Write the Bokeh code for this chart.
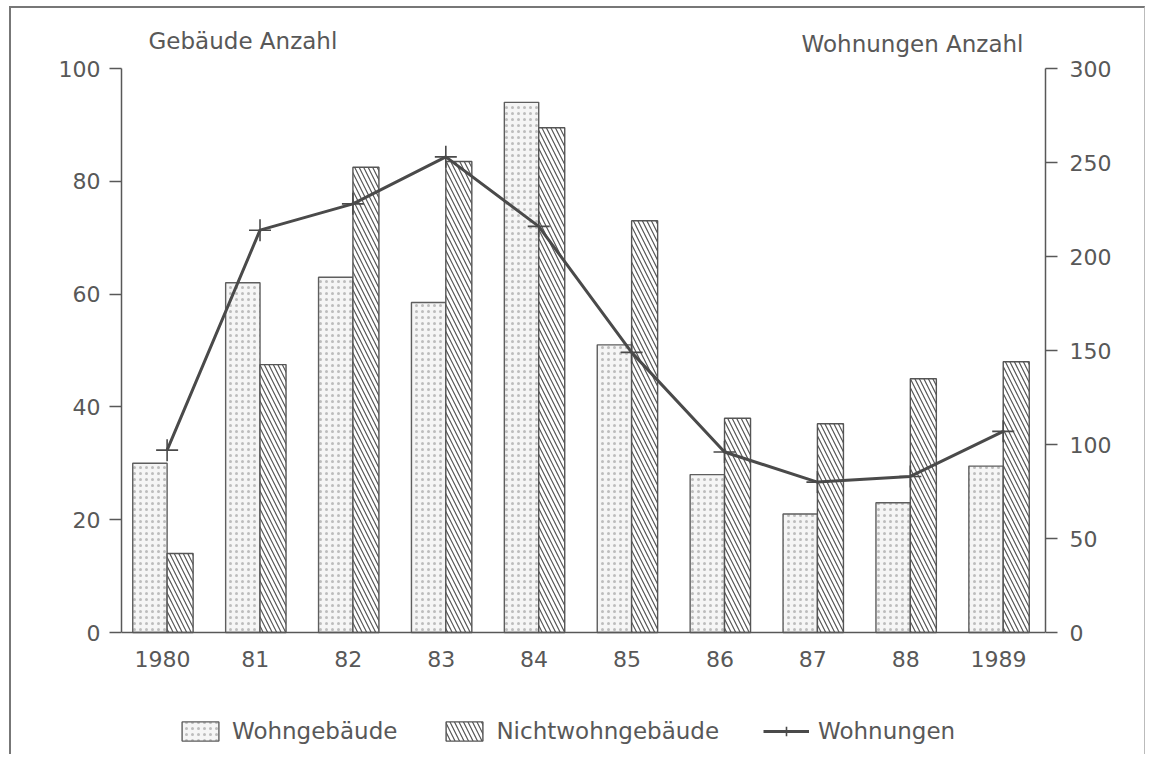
import numpy as np
from bokeh.plotting import figure
from bokeh.models import (ColumnDataSource, LinearAxis, Range1d, FixedTicker,
                          Legend, LegendItem, Label, Span)
from bokeh.core.properties import value
from bokeh.embed import file_html
from bokeh.resources import INLINE

# ---- data ----
jahre = ["1980", "81", "82", "83", "84", "85", "86", "87", "88", "1989"]
wohngebaeude = [30, 62, 63, 58.5, 94, 51, 28, 21, 23, 29.5]
nichtwohngebaeude = [14, 47.5, 82.5, 83.5, 89.5, 73, 38, 37, 45, 48]
wohnungen = [97, 214, 228, 253, 216, 149, 96, 80, 83, 107]

FONT = "DejaVu Sans"
GRAY = "#585858"

pos = np.arange(len(jahre))
d = 0.05          # group centre offset from label
w_w = 0.37        # Wohngebäude bar width
w_n = 0.28        # Nichtwohngebäude bar width

src = ColumnDataSource(dict(
    xw=pos + d - w_w / 2,
    xn=pos + d + w_n / 2,
    xl=pos + d,
    wohn=wohngebaeude,
    nicht=nichtwohngebaeude,
    wohnungen=wohnungen,
))
lab_src = ColumnDataSource(dict(x=pos, y=[-4.61] * len(jahre), text=jahre))

PXU = 5.64  # px per left-axis unit
p = figure(width=1136, height=748, output_backend="svg", toolbar_location=None,
           x_range=Range1d(-0.441, 9.505),
           y_range=Range1d(-124 / PXU, 100 + 60 / PXU),
           min_border_left=110, min_border_right=102,
           min_border_top=0, min_border_bottom=0,
           x_axis_type=None, y_axis_type=None)
p.extra_y_ranges = {"right": Range1d(-3 * 124 / PXU, 300 + 3 * 60 / PXU)}
p.grid.visible = False
p.outline_line_color = None
p.background_fill_color = "white"
p.border_fill_color = "white"

def style_axis(ax):
    ax.axis_line_color = GRAY
    ax.axis_line_width = 1.5
    ax.major_tick_line_color = GRAY
    ax.major_tick_line_width = 1.5
    ax.minor_tick_line_color = None
    ax.major_tick_in = 0
    ax.major_tick_out = 12
    ax.major_label_text_font = FONT
    ax.major_label_text_font_size = "22px"
    ax.major_label_text_color = GRAY

yl = LinearAxis(ticker=FixedTicker(ticks=[0, 20, 40, 60, 80, 100]), bounds=(0, 100))
style_axis(yl)
yl.major_label_standoff = 9
p.add_layout(yl, "left")

yr = LinearAxis(y_range_name="right", bounds=(0, 300),
                ticker=FixedTicker(ticks=[0, 50, 100, 150, 200, 250, 300]))
style_axis(yr)
yr.major_label_standoff = 12
p.add_layout(yr, "right")

# x baseline and year labels
p.add_layout(Span(location=0, dimension="width", line_color=GRAY, line_width=1.5))
p.text(x="x", y="y", text="text", source=lab_src, text_font=value(FONT),
       text_font_size="22px", text_color=GRAY, text_align="center",
       text_baseline="middle")

r_w = p.vbar(x="xw", top="wohn", width=w_w, bottom=0, source=src,
             fill_color="#f5f5f5", line_color="#5e5e5e", line_width=1.4,
             hatch_pattern=".", hatch_color="#bdbdbd", hatch_scale=6, hatch_weight=1)
r_n = p.vbar(x="xn", top="nicht", width=w_n, bottom=0, source=src,
             fill_color="white", line_color="#555555", line_width=1.4,
             hatch_pattern="\\", hatch_color="#555555", hatch_scale=9, hatch_weight=1.2)
r_l = p.line(x="xl", y="wohnungen", source=src, y_range_name="right",
             line_color="#4a4a4a", line_width=3)
r_m = p.scatter(x="xl", y="wohnungen", source=src, y_range_name="right",
                marker="cross", size=22, line_color="#4a4a4a", line_width=1.6)

p.add_layout(Label(x=-0.150, y=104.96, text="Gebäude Anzahl", text_font=FONT,
                   text_font_size="23px", text_color=GRAY, text_baseline="middle",
                   text_align="left"))
p.add_layout(Label(x=9.268, y=104.43, text="Wohnungen Anzahl", text_font=FONT,
                   text_font_size="23px", text_color=GRAY, text_baseline="middle",
                   text_align="right"))

legend = Legend(items=[LegendItem(label="Wohngebäude", renderers=[r_w]),
                       LegendItem(label="Nichtwohngebäude", renderers=[r_n]),
                       LegendItem(label="Wohnungen", renderers=[r_l, r_m])],
                orientation="horizontal", location=(56, 12),
                glyph_width=46, glyph_height=24, label_standoff=9, spacing=44,
                padding=0, margin=0, border_line_color=None,
                background_fill_alpha=0, label_text_font=FONT,
                label_text_font_size="23px", label_text_color=GRAY)
p.add_layout(legend)

p.styles = {"border-top": "2px solid #777777", "border-left": "2px solid #777777",
            "border-right": "1px solid #bbbbbb", "margin": "6px 0 0 9px"}

open("out.html", "w").write(file_html(p, INLINE))
